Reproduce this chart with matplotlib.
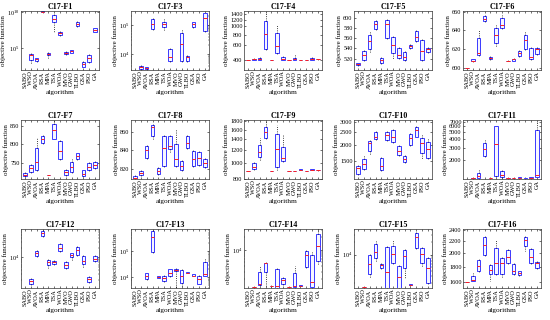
import matplotlib
matplotlib.use('Agg')
import matplotlib.pyplot as plt
from matplotlib.ticker import FixedLocator, FixedFormatter, NullFormatter, LogFormatterSciNotation

plt.rcParams['font.family'] = ['Liberation Serif', 'DejaVu Serif']
plt.rcParams['mathtext.fontset'] = 'stix'

algorithms = ['SABO', 'WSO', 'AVOA', 'RSA', 'MPA', 'TSA', 'WOA', 'MVO',
              'GWO', 'TLBO', 'GSA', 'PSO', 'GA']

titles = ['C17-F1', 'C17-F3', 'C17-F4', 'C17-F5', 'C17-F6',
          'C17-F7', 'C17-F8', 'C17-F9', 'C17-F10', 'C17-F11',
          'C17-F12', 'C17-F13', 'C17-F14', 'C17-F15', 'C17-F16']

# (whisker low, q1, median, q3, whisker high) for each algorithm
f1_box = [(100, 100, 100, 100, 100), (676, 2570, 11750, 17800, 29500),
          (1120, 1550, 2820, 4680, 5250), (9.1e9, 9.55e9, 1.12e10, 1.26e10, 1.32e10),
          (5250, 11750, 17800, 24000, 29500), (1.8e7, 3.8e8, 1.07e9, 4e9, 5e9),
          (5e6, 6.5e6, 1.2e7, 1.8e7, 2.2e7), (12600, 14500, 21900, 32400, 40000),
          (20000, 24000, 36300, 53700, 63000), (8.9e7, 1.12e8, 2.3e8, 4.7e8, 6.3e8),
          (224, 300, 676, 1380, 1780), (676, 1120, 5250, 11750, 15800),
          (1.6e7, 1.8e7, 3e7, 6.2e7, 7e7)]
f3_box = [(2950, 2950, 2950, 2950, 2950), (2950, 3160, 3630, 4070, 4470),
          (2950, 3090, 3310, 3630, 3800), (63000, 72400, 107000, 155000, 178000),
          (2950, 2950, 2950, 2950, 2950), (67600, 87000, 107000, 129000, 155000),
          (5000, 6030, 8320, 14800, 17800), (2950, 2950, 2950, 2950, 2950),
          (5600, 6030, 22900, 52500, 72400), (5250, 6030, 7760, 8700, 9550),
          (79400, 87000, 105000, 120000, 126000), (2950, 2950, 2950, 2950, 2950),
          (52500, 60300, 166000, 245000, 257000)]
f4_box = [(400, 400, 400, 400, 400), (398, 402, 411, 415, 420),
          (400, 402, 410, 420, 450), (524, 536, 815, 1172, 1490),
          (400, 400, 400, 400, 400), (470, 491, 586, 836, 1045),
          (400, 404, 418, 440, 460), (400, 400, 400, 400, 400),
          (400, 404, 418, 428, 470), (400, 400, 400, 400, 400),
          (400, 400, 400, 400, 400), (400, 400, 411, 428, 450),
          (405, 408, 411, 414, 416)]
f5_box = [(507, 509, 511, 513, 514), (515.6, 518.7, 527, 534.6, 538),
          (533, 538, 554, 566, 573), (574, 578, 588.6, 593, 597),
          (512, 514, 518, 522, 524), (555.5, 560, 587, 597, 599),
          (520, 531, 546, 561, 565), (520, 522, 527, 541, 545),
          (516, 519, 525, 533, 536), (539, 541, 545, 547, 548),
          (550, 553.6, 561, 573, 576), (515.6, 519, 534.6, 557, 560),
          (531, 533, 538, 541, 543)]
f6_box = [(600, 600, 600, 600, 600), (606.5, 607, 607.7, 608.8, 609.5),
          (611, 613, 615.8, 630.9, 640), (648, 649.8, 652.6, 655, 656),
          (608, 608.8, 610.2, 611, 612), (621.8, 625.6, 635, 642, 645.6),
          (640, 642, 645.6, 653.7, 657), (607, 607.2, 607.4, 607.6, 607.8),
          (607, 607.7, 608.8, 609.5, 610), (611, 612.3, 615.8, 617.5, 619),
          (618, 620, 629, 635, 638.5), (607.7, 608.8, 611.6, 621, 623),
          (612, 614, 619.3, 621, 623)]
f7_box = [(715, 717, 720.5, 724, 726), (722, 726, 735.7, 745, 750),
          (726, 731, 752, 788, 816.7), (798, 802, 812, 821, 825),
          (718.5, 719, 719.5, 720, 720.5), (812, 812, 836, 855, 862),
          (757, 759.5, 780.5, 807, 810), (717, 719.5, 726, 733, 736),
          (722, 726, 740.5, 752, 760), (757, 759.5, 767, 774, 776),
          (715, 717, 721, 731, 733), (728, 731, 740.5, 750, 755),
          (733, 735.7, 745, 752, 754)]
f8_box = [(809, 810, 811, 813, 814), (813.5, 814.4, 816.4, 818.4, 819.5),
          (830, 832, 840.4, 845, 847), (852, 855, 865, 867, 869),
          (814, 815, 818, 821, 822), (821, 823, 843, 855, 857),
          (838, 841, 845, 855, 858), (821, 823, 831, 847, 863),
          (817, 819, 824, 829, 831), (841, 843, 848, 855, 857),
          (821, 823, 831, 839, 841), (823, 825, 832, 838, 840),
          (821, 822, 827, 831, 833)]
f9_box = [(900, 900, 900, 900, 900), (908, 915, 950, 1000, 1030),
          (1043, 1093, 1172, 1287, 1413), (1400, 1413, 1549, 1663, 1800),
          (900, 900, 900, 900, 900), (908, 950, 1227, 1514, 1702),
          (1020, 1029, 1069, 1256, 1479), (900, 900, 900, 900, 900),
          (900, 900, 900, 900, 900), (903, 905, 910, 920, 925),
          (900, 900, 900, 900, 900), (903, 905, 910, 915, 918),
          (900, 902, 905, 910, 912)]
f10_box = [(1160, 1191, 1321, 1375, 1410), (1260, 1296, 1413, 1546, 1650),
           (1650, 1783, 2061, 2156, 2200), (2180, 2209, 2285, 2521, 2600),
           (1240, 1262, 1375, 1589, 1620), (2150, 2180, 2389, 2521, 2560),
           (2050, 2083, 2313, 2625, 2680), (1620, 1655, 1783, 1944, 1990),
           (1430, 1457, 1545, 1640, 1680), (1970, 2000, 2245, 2421, 2480),
           (2280, 2313, 2594, 2749, 2800), (1545, 1732, 2061, 2245, 2421),
           (1545, 1589, 1857, 2118, 2245)]
f11_box = [(1100, 1100, 1100, 1100, 1100), (1105, 1110, 1120, 1130, 1140),
           (1140, 1148, 1222, 1315, 1460), (2150, 2340, 2944, 3556, 3900),
           (1115, 1120, 1130, 1140, 1150), (1185, 1222, 3375, 6000, 6100),
           (1150, 1160, 1250, 1416, 1540), (1105, 1110, 1120, 1130, 1140),
           (1110, 1120, 1130, 1140, 1150), (1120, 1130, 1145, 1160, 1170),
           (1100, 1100, 1110, 1120, 1125), (1120, 1130, 1145, 1160, 1175),
           (1160, 1185, 1250, 5400, 7000)]
f12_box = [(1130, 1130, 1130, 1130, 1130), (1410, 1510, 1820, 2140, 2400),
           (10500, 11220, 13490, 15850, 17000), (42700, 45700, 57500, 67600, 72400),
           (4790, 5750, 7080, 8510, 9550), (5600, 6030, 7080, 7590, 8100),
           (13490, 15850, 19950, 26900, 30200), (4500, 4790, 5750, 7080, 7600),
           (8500, 10000, 11480, 13490, 14000), (11000, 12020, 17000, 21400, 23000),
           (4790, 6030, 7940, 10700, 12020), (1600, 1700, 2140, 2510, 2700),
           (7000, 7590, 9120, 10700, 11500)]
f13_box = [(4000, 4000, 4000, 4000, 4000), (4000, 4000, 4000, 4000, 4000),
           (8000, 8700, 10900, 14000, 15000), (81000, 95000, 331000, 589000, 676000),
           (9600, 9800, 10200, 10900, 11200), (6800, 7100, 9100, 11500, 12500),
           (10000, 11500, 15100, 20000, 21000), (4000, 17400, 19000, 21400, 22000),
           (4200, 6030, 11500, 18600, 20000), (14000, 14500, 15100, 16200, 16600),
           (11000, 11200, 11700, 12900, 13200), (5500, 5750, 8700, 11500, 13000),
           (11500, 11500, 13200, 38900, 53700)]
f14_box = [(1240, 1240, 1240, 1240, 1240), (1250, 1260, 1280, 1300, 1310),
           (1320, 1420, 1550, 2900, 4150), (1310, 2900, 4770, 4920, 5000),
           (1320, 1330, 1360, 1400, 1420), (1230, 1240, 1350, 3470, 3700),
           (1450, 1510, 1860, 2140, 2300), (1270, 1280, 1300, 1310, 1320),
           (1300, 1310, 1350, 2740, 4150), (1380, 1390, 1400, 1420, 1430),
           (3600, 3900, 7400, 9650, 10000), (1300, 1310, 1700, 7650, 9000),
           (4500, 5380, 12600, 24200, 31000)]
f15_box = [(1510, 1510, 1510, 1510, 1510), (1560, 1570, 1590, 1610, 1620),
           (2700, 3340, 6000, 9500, 10200), (7000, 8330, 11400, 17900, 21800),
           (4400, 4640, 5560, 6000, 6200), (1500, 1510, 3800, 15200, 16000),
           (6000, 6300, 10400, 15800, 22900), (1500, 1510, 2780, 5300, 5600),
           (2600, 4560, 9130, 13100, 14000), (1700, 1730, 1780, 1830, 1850),
           (14000, 14900, 27300, 34600, 37000), (5000, 6300, 10400, 14400, 16000),
           (1900, 2000, 4560, 8330, 9000)]
f16_box = [(1600, 1600, 1600, 1600, 1600), (1610, 1620, 1627, 1680, 1720),
           (1720, 1740, 1808, 1900, 1930), (1950, 1972, 2133, 2274, 2290),
           (1620, 1700, 1760, 1830, 1860), (1680, 1700, 1855, 2080, 2210),
           (1670, 1700, 1855, 1930, 1960), (1830, 1855, 1946, 2048, 2070),
           (1680, 1700, 1740, 1840, 1860), (1680, 1690, 1712, 1740, 1750),
           (2040, 2115, 2210, 2260, 2300), (1840, 1855, 1946, 2060, 2090),
           (1760, 1790, 1855, 1870, 1880)]

panel_boxes = [f1_box, f3_box, f4_box, f5_box, f6_box, f7_box, f8_box, f9_box,
               f10_box, f11_box, f12_box, f13_box, f14_box, f15_box, f16_box]

# y limits and tick values per panel
y_limits = [(100, 1.35e10), (2900, 2.95e5), (306, 1517), (501, 615), (598, 661),
            (710, 866), (810, 873), (800, 1830), (1080, 3120), (1100, 7400),
            (1120, 7.6e4), (3950, 6.8e5), (1220, 3.16e4), (1490, 4.27e4), (1531, 2410)]
y_ticks = [[1e5, 1e10], [1e4, 1e5], [400, 600, 800, 1000, 1200, 1400],
           [520, 540, 560, 580, 600], [600, 620, 640, 660], [750, 800, 850],
           [820, 840, 860], [800, 1000, 1200, 1400, 1600, 1800],
           [1500, 2000, 2500, 3000], [2000, 3000, 4000, 5000, 6000, 7000],
           [1e4], [1e4, 1e5], [1e4], [1e4], [1600, 1800, 2000, 2200, 2400]]
decade_labels = [True, True, False, False, False, False, False, False,
                 False, False, True, True, True, True, False]

# axes placement in pixels (left, top) on a 550x320 canvas
col_left = [21, 131, 244, 354, 463]
row_top = [11, 120, 229]
ax_w, ax_h = 78, 59

fig = plt.figure(figsize=(5.5, 3.2), dpi=100)

for i, boxes in enumerate(panel_boxes):
    r, c = divmod(i, 5)
    ax = fig.add_axes([col_left[c] / 550, 1 - (row_top[r] + ax_h) / 320,
                       ax_w / 550, ax_h / 320])
    stats = [dict(whislo=b[0], q1=b[1], med=b[2], q3=b[3], whishi=b[4], fliers=[])
             for b in boxes]
    ax.bxp(stats, positions=range(1, len(algorithms) + 1), widths=0.6,
           patch_artist=True, showcaps=False,
           boxprops=dict(facecolor='#f6f6ff', edgecolor='#3a3aff', linewidth=0.7),
           medianprops=dict(color='#ff2020', linewidth=0.7),
           whiskerprops=dict(color='black', linestyle=':', linewidth=0.6))
    ax.set_yscale('log')
    ax.set_ylim(*y_limits[i])
    ax.set_xlim(0.3, len(algorithms) + 0.7)
    ax.yaxis.set_major_locator(FixedLocator(y_ticks[i]))
    if decade_labels[i]:
        ax.yaxis.set_major_formatter(LogFormatterSciNotation())
    else:
        ax.yaxis.set_major_formatter(FixedFormatter([str(int(t)) for t in y_ticks[i]]))
        ax.yaxis.set_minor_locator(FixedLocator([]))
    ax.yaxis.set_minor_formatter(NullFormatter())
    ax.set_xticks(range(1, len(algorithms) + 1))
    ax.set_xticklabels(algorithms, rotation=90, fontsize=4.5)
    ax.tick_params(axis='both', direction='in', top=True, right=True,
                   length=1.5, width=0.4, pad=1, labelsize=4.5)
    ax.tick_params(axis='y', which='minor', direction='in', right=True, length=0.8, width=0.3)
    for s in ax.spines.values():
        s.set_linewidth(0.5)
        s.set_color('#333333')
    ax.set_title(titles[i], fontsize=5.8, fontweight='bold', pad=1.5)
    ax.set_xlabel('algorithm', fontsize=5.2, labelpad=1)
    ax.set_ylabel('objective function', fontsize=5, labelpad=1)

fig.savefig('out.png', dpi=100)
